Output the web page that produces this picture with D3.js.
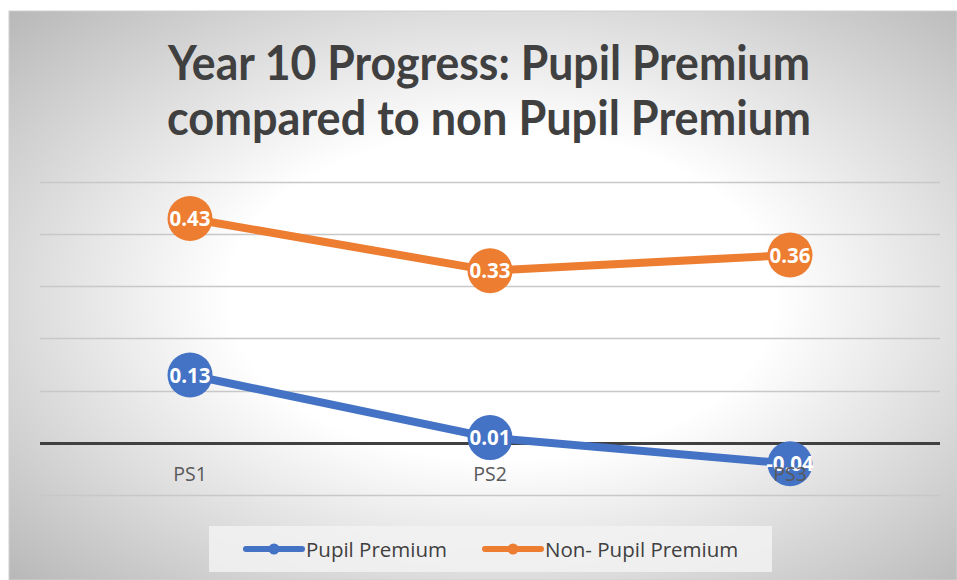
<!DOCTYPE html>
<html>
<head>
<meta charset="utf-8">
<script src="https://cdn.jsdelivr.net/npm/d3@7"></script>
<style>
body{margin:0;background:#fff;}
</style>
</head>
<body>
<div id="chart"></div>
<script>
var categories = ["PS1", "PS2", "PS3"];
var pupilPremium = [0.13, 0.01, -0.04];
var nonPupilPremium = [0.43, 0.33, 0.36];
var seriesNames = ["Pupil Premium", "Non- Pupil Premium"];
var yTicks = [-0.1, 0, 0.1, 0.2, 0.3, 0.4, 0.5];

var width = 957, height = 580;
var svg = d3.select("#chart").append("svg")
	.attr("width", width)
	.attr("height", height);

// background gradient like the excel chart area
var defs = svg.append("defs");
var grad = defs.append("radialGradient")
	.attr("id", "bg")
	.attr("cx", "52%").attr("cy", "50%").attr("r", "72%");
grad.append("stop").attr("offset", "0%").attr("stop-color", "#ffffff");
grad.append("stop").attr("offset", "40%").attr("stop-color", "#ffffff");
grad.append("stop").attr("offset", "100%").attr("stop-color", "#b8b8b8");

svg.append("rect")
	.attr("x", 9).attr("y", 11)
	.attr("width", width - 9).attr("height", height - 11)
	.attr("fill", "url(#bg)")
	.attr("stroke", "#d0d0d0")
	.attr("stroke-width", 1);

// title
var title = svg.append("text")
	.attr("text-anchor", "middle")
	.attr("font-family", "Lato, 'Open Sans', sans-serif")
	.attr("font-weight", "bold")
	.attr("font-size", 47)
	.attr("fill", "#404040");
title.append("tspan").attr("x", 489).attr("y", 80)
	.attr("textLength", 642).attr("lengthAdjust", "spacingAndGlyphs")
	.text("Year 10 Progress: Pupil Premium");
title.append("tspan").attr("x", 489).attr("y", 135)
	.attr("textLength", 644).attr("lengthAdjust", "spacingAndGlyphs")
	.text("compared to non Pupil Premium");

// scales
var xscale = d3.scalePoint()
	.domain(categories)
	.range([40, 940])
	.padding(0.5);

var yscale = d3.scaleLinear()
	.domain([-0.1, 0.5])
	.range([495, 182]);

// gridlines
svg.append("g")
	.selectAll("line")
	.data(yTicks)
	.enter().append("line")
	.attr("x1", 40).attr("x2", 940)
	.attr("y1", function(d) { return Math.round(yscale(d)) + 0.5; })
	.attr("y2", function(d) { return Math.round(yscale(d)) + 0.5; })
	.attr("stroke", function(d) { return d == 0 ? "#404040" : "#c8c8c8"; })
	.attr("stroke-width", function(d) { return d == 0 ? 3 : 1.5; });

var series = [
	{name: seriesNames[0], values: pupilPremium, color: "#4472C4"},
	{name: seriesNames[1], values: nonPupilPremium, color: "#ED7D31"}
];

var line = d3.line()
	.x(function(d, i) { return xscale(categories[i]); })
	.y(function(d) { return yscale(d); });

series.forEach(function(s) {
	svg.append("path")
		.attr("d", line(s.values))
		.attr("fill", "none")
		.attr("stroke", s.color)
		.attr("stroke-width", 8)
		.attr("stroke-linejoin", "round");
	svg.selectAll(null)
		.data(s.values)
		.enter().append("circle")
		.attr("cx", function(d, i) { return xscale(categories[i]); })
		.attr("cy", function(d) { return yscale(d); })
		.attr("r", 22.5)
		.attr("fill", s.color);
	svg.selectAll(null)
		.data(s.values)
		.enter().append("text")
		.attr("x", function(d, i) { return xscale(categories[i]); })
		.attr("y", function(d) { return yscale(d) + 7.5; })
		.attr("text-anchor", "middle")
		.attr("font-family", "'Open Sans', sans-serif")
		.attr("font-weight", "bold")
		.attr("font-size", 20.5)
		.attr("fill", "#ffffff")
		.text(function(d) { return d.toFixed(2); });
});

// category labels
svg.append("g")
	.selectAll("text")
	.data(categories)
	.enter().append("text")
	.attr("x", function(d) { return xscale(d); })
	.attr("y", 481)
	.attr("text-anchor", "middle")
	.attr("font-family", "'Open Sans', sans-serif")
	.attr("font-size", 19.5)
	.attr("fill", "#595959")
	.text(function(d) { return d; });

// legend
var legend = svg.append("g");
legend.append("rect")
	.attr("x", 209).attr("y", 526)
	.attr("width", 563).attr("height", 46)
	.attr("fill", "#f2f2f2")
	.attr("opacity", 0.85);

var legendX = [246, 485];
series.forEach(function(s, i) {
	var g = legend.append("g").attr("transform", "translate(" + legendX[i] + ",549)");
	g.append("line")
		.attr("x1", 0).attr("x2", 56)
		.attr("stroke", s.color)
		.attr("stroke-width", 6)
		.attr("stroke-linecap", "round");
	g.append("circle").attr("cx", 28).attr("r", 5.5).attr("fill", s.color);
	g.append("text")
		.attr("x", 60).attr("y", 7.5)
		.attr("font-family", "'Open Sans', sans-serif")
		.attr("font-size", 20.5)
		.attr("fill", "#404040")
		.text(s.name);
});
</script>
</body>
</html>
